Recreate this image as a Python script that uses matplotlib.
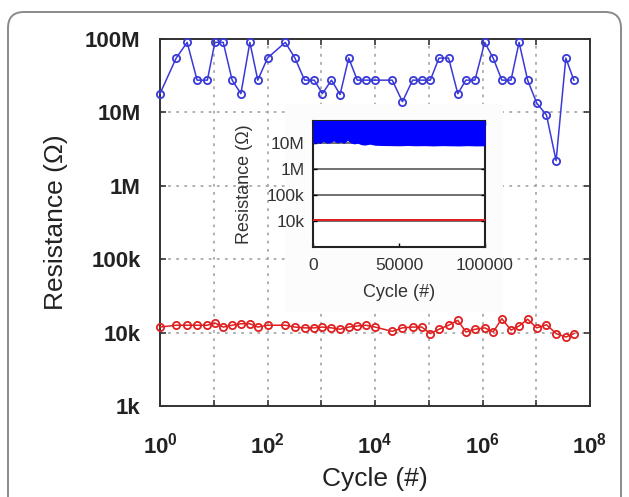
import numpy as np
import matplotlib
matplotlib.use("Agg")
import matplotlib.pyplot as plt
from matplotlib.patches import FancyBboxPatch, Rectangle
from matplotlib.transforms import IdentityTransform

plt.rcParams['font.family'] = ['Liberation Sans', 'DejaVu Sans']
plt.rcParams['mathtext.fontset'] = 'custom'
plt.rcParams['mathtext.rm'] = 'Liberation Sans'
plt.rcParams['mathtext.bf'] = 'Liberation Sans:bold'
plt.rcParams['mathtext.it'] = 'Liberation Sans:italic'

# ---------------- data ----------------
cycles = [1, 2, 3.2, 4.9, 7.6, 10.5, 15, 22, 32, 47, 66, 100, 214, 324, 490, 741,
          1050, 1550, 2240, 3240, 4680, 6760, 10000, 20900, 32400, 50100, 74100,
          107000, 155000, 234000, 347000, 490000, 724000, 1.1e6, 1.58e6, 2.29e6,
          3.39e6, 4.79e6, 6.92e6, 1.02e7, 1.55e7, 2.34e7, 3.55e7, 5.01e7]

r_off = [18e6, 55e6, 90e6, 27.5e6, 27.5e6, 90e6, 90e6, 27.5e6, 18e6, 90e6, 27.5e6,
         55e6, 90e6, 55e6, 27.5e6, 27.5e6, 18e6, 27.5e6, 17.5e6, 55e6, 27.5e6,
         27.5e6, 27.5e6, 27.5e6, 14e6, 27.5e6, 27.5e6, 27.5e6, 55e6, 55e6, 18e6,
         27.5e6, 27.5e6, 90e6, 55e6, 27.5e6, 27.5e6, 90e6, 27.5e6, 13.4e6, 9.2e6,
         2.2e6, 55e6, 27.5e6]

r_on = [11.9e3, 12.6e3, 12.6e3, 12.6e3, 12.6e3, 13.5e3, 11.9e3, 12.6e3, 13.2e3,
        13.2e3, 11.9e3, 12.6e3, 12.6e3, 11.9e3, 11.6e3, 11.6e3, 11.9e3, 11.6e3,
        11.1e3, 11.9e3, 12.3e3, 12.6e3, 11.9e3, 10.4e3, 11.6e3, 11.9e3, 11.9e3,
        9.7e3, 11.1e3, 12.6e3, 14.7e3, 10.2e3, 11.1e3, 11.6e3, 10.2e3, 15.5e3,
        10.8e3, 12.3e3, 15.2e3, 11.6e3, 12.8e3, 9.7e3, 8.7e3, 9.7e3]

y_ticks = [1e3, 1e4, 1e5, 1e6, 1e7, 1e8]
y_ticklabels = ['1k', '10k', '100k', '1M', '10M', '100M']
x_ticks = [1e0, 1e2, 1e4, 1e6, 1e8]
x_ticklabels = [r'$\mathbf{10^{0}}$', r'$\mathbf{10^{2}}$', r'$\mathbf{10^{4}}$',
                r'$\mathbf{10^{6}}$', r'$\mathbf{10^{8}}$']

# inset (linear cycle axis)
inset_cycles = [0, 2000, 4000, 6000, 8000, 10000, 12000, 14000, 16000, 18000,
                20000, 22000, 24000, 26000, 28000, 30000, 33000, 36000, 40000,
                45000, 50000, 55000, 60000, 65000, 70000, 75000, 80000, 85000,
                90000, 95000, 100000]
inset_off_low = [9.0e6, 10.5e6, 9.5e6, 11.5e6, 9.8e6, 10.2e6, 12.0e6, 10.0e6,
                 11.0e6, 9.6e6, 12.5e6, 10.0e6, 9.2e6, 9.8e6, 8.6e6, 8.3e6,
                 9.0e6, 8.2e6, 8.0e6, 7.9e6, 7.8e6, 8.0e6, 7.8e6, 7.9e6, 7.7e6,
                 7.9e6, 7.8e6, 7.7e6, 7.9e6, 7.7e6, 7.8e6]
inset_off_high = [1e8] * len(inset_cycles)
inset_on_low = [10.4e3] * len(inset_cycles)
inset_on_high = [12.0e3] * len(inset_cycles)
inset_y_ticks = [1e4, 1e5, 1e6, 1e7]
inset_y_ticklabels = ['10k', '100k', '1M', '10M']
inset_x_ticks = [0, 50000, 100000]
inset_x_ticklabels = ['0', '50000', '100000']

blue = '#3a3ad8'
red = '#e02020'

# ---------------- figure ----------------
W, H = 629, 497
fig = plt.figure(figsize=(W / 100, H / 100), dpi=100)
fig.patch.set_facecolor('white')

# rounded frame
frame = FancyBboxPatch((8, -25), 613, H - 12 + 25,
                       boxstyle="round,pad=0,rounding_size=16",
                       transform=IdentityTransform(), fill=False,
                       edgecolor='#8a8a8a', linewidth=1.4, zorder=5)
fig.patches.append(frame)

ax = fig.add_axes([160 / W, 1 - 406 / H, 430 / W, 367 / H])
ax.set_zorder(0)
ax.set_xscale('log')
ax.set_yscale('log')
ax.set_xlim(1, 1e8)
ax.set_ylim(1e3, 1e8)

# light panel behind the inset (covers main gridlines, below data)
bg = Rectangle((285 / W, 1 - 312 / H), 218 / W, 208 / H, transform=fig.transFigure,
               facecolor='#fcfcfc', edgecolor='none', zorder=2)
ax.add_artist(bg)

ax.plot(cycles, r_off, '-o', color=blue, lw=1.1, ms=5.2, mfc='none',
        mec=blue, mew=1.3, clip_on=False, zorder=3)
ax.plot(cycles, r_on, '-o', color=red, lw=1.1, ms=5.2, mfc='none',
        mec=red, mew=1.3, clip_on=False, zorder=3)

ax.set_xticks(x_ticks)
ax.set_xticks([1e1, 1e3, 1e5, 1e7], minor=True)
ax.set_xticklabels(x_ticklabels)
ax.set_yticks(y_ticks)
ax.set_yticklabels(y_ticklabels)
ax.yaxis.set_minor_locator(matplotlib.ticker.NullLocator())
ax.xaxis.set_minor_formatter(matplotlib.ticker.NullFormatter())
ax.tick_params(which='both', direction='in', top=True, right=True, length=4,
               width=1.2, color='#333333')
ax.tick_params(axis='x', which='major', labelsize=16, pad=19, labelcolor='#222222')
ax.tick_params(axis='y', labelsize=16, pad=14, labelcolor='#222222')
for lab in ax.get_yticklabels():
    lab.set_fontweight('bold')
ax.grid(True, which='both', linestyle=(0, (1.5, 3)), color='#aaaaaa', lw=1.3)
for sp in ax.spines.values():
    sp.set_color('#333333')
    sp.set_linewidth(1.4)
ax.set_xlabel('Cycle (#)', fontsize=19, labelpad=6, color='#222222')
ax.set_ylabel('Resistance (\u03a9)', fontsize=19, labelpad=12, color='#222222')

ins = fig.add_axes([313 / W, 1 - 247 / H, 172 / W, 126 / H])
ins.set_zorder(1)
ins.set_axisbelow(True)
ins.set_yscale('log')
ins.set_xlim(0, 100000)
ins.set_ylim(1e3, 7e7)
ins.fill_between(inset_cycles, inset_off_low, inset_off_high, color='#0000ff',
                 lw=0, zorder=3)
ins.fill_between(inset_cycles, inset_on_low, inset_on_high, color=red, lw=0,
                 zorder=3)
ins.set_yticks(inset_y_ticks)
ins.set_yticklabels(inset_y_ticklabels)
ins.yaxis.set_minor_locator(matplotlib.ticker.NullLocator())
ins.set_xticks(inset_x_ticks)
ins.set_xticklabels(inset_x_ticklabels)
ins.tick_params(direction='in', top=True, right=True, length=3, width=1,
                labelsize=12.5, labelcolor='#333333')
ins.tick_params(axis='x', pad=8)
ins.tick_params(axis='y', pad=6)
ins.grid(True, axis='y', color='#666666', lw=1.3, linestyle='-')
for sp in ins.spines.values():
    sp.set_color('#222222')
    sp.set_linewidth(1.5)
ins.set_xlabel('Cycle (#)', fontsize=13, color='#333333', labelpad=8)
ins.set_ylabel('Resistance (\u03a9)', fontsize=13, color='#333333', labelpad=10)

fig.savefig('out.png', dpi=100)
